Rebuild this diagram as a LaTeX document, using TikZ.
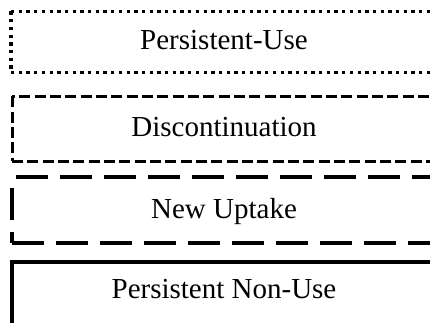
\documentclass[tikz,border=0pt]{standalone}
\usepackage{fontspec}
\setmainfont{Liberation Serif}
\begin{document}
\begin{tikzpicture}[x=1pt,y=-1pt,
  lbl/.style={anchor=base,inner sep=0pt,font=\fontsize{29}{34}\selectfont},
  dotline/.style={line width=3.3pt,dash pattern=on 3.3pt off 4.4pt},
  shortdash/.style={line width=3pt,dash pattern=on 11pt off 4.33pt},
  longdash/.style={line width=4pt,dash pattern=on 32pt off 12pt},
  solidline/.style={line width=4pt}]
\useasboundingbox (0,0) rectangle (430,323);
\clip (0,0) rectangle (430,323);
% Box 1: dotted
\draw[dotline,dash phase=0pt] (11,11.5) -- (445,11.5);
\draw[dotline,dash phase=0pt] (11,11.5) -- (11,72.5);
\draw[dotline,dash phase=0pt] (11,72.5) -- (445,72.5);
% Box 2: short dashes
\draw[shortdash,dash phase=8pt] (12,96.5) -- (445,96.5);
\draw[shortdash] (12,96.5) -- (12,161);
\draw[shortdash] (12,161) -- (445,161);
% Box 3: long dashes
\draw[longdash,dash phase=40pt] (12,177) -- (445,177);
\draw[longdash,dash phase=33pt] (12,177) -- (12,243);
\draw[longdash] (12,243) -- (445,243);
% Box 4: solid
\draw[solidline] (445,262) -- (12,262) -- (12,340);
% Labels
\node[lbl] (t1) at (224,50) {Persistent-Use};
\node[lbl] (t2) at (224,136.7) {Discontinuation};
\node[lbl] (t3) at (224,218.3) {New Uptake};
\node[lbl] (t4) at (224,298.3) {Persistent Non-Use};
\end{tikzpicture}
\end{document}
